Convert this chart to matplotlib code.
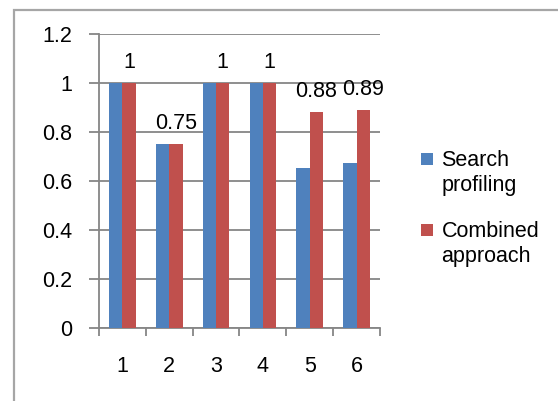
import matplotlib.pyplot as plt
from matplotlib.container import BarContainer
from matplotlib.patches import Rectangle
from matplotlib.legend_handler import HandlerPatch, update_from_first_child

plt.rcParams['font.family'] = ['Liberation Sans', 'DejaVu Sans']

grupos = ['1', '2', '3', '4', '5', '6']
search_profiling = [1.0, 0.75, 1.0, 1.0, 0.655, 0.675]
combined_approach = [1.0, 0.75, 1.0, 1.0, 0.88, 0.89]
rotulos_combined = ['1', '0.75', '1', '1', '0.88', '0.89']
nomes_series = ['Search\nprofiling', 'Combined\napproach']

AZUL = '#4f81bd'
VERMELHO = '#c0504d'
CINZA = '#868686'
LARG = 0.284
FONTE = 15.5


# quadradinho da legenda alinhado com a primeira linha do texto
def quadrado_topo(legend, orig_handle, xdescent, ydescent, width, height, fontsize):
    lado = 0.56 * fontsize
    return Rectangle((-xdescent, -ydescent + height - lado + 0.6 * fontsize), lado, lado)


fig = plt.figure(figsize=(5.58, 4.01), dpi=100)
ax = fig.add_axes([99 / 558, 1 - 328 / 401, 281 / 558, 294 / 401])

# moldura externa
fig.patches.append(Rectangle((14 / 558, -0.1), 1.2, 1 - 10 / 401 + 0.1,
                             transform=fig.transFigure, fill=False,
                             edgecolor='#a6a6a6', linewidth=1.6))

x = list(range(len(grupos)))
b1 = ax.bar([i - LARG / 2 for i in x], search_profiling, LARG, color=AZUL, zorder=3)
b2 = ax.bar([i + LARG / 2 for i in x], combined_approach, LARG, color=VERMELHO, zorder=3)

for xi, v, txt in zip(x, combined_approach, rotulos_combined):
    ax.annotate(txt, (xi + LARG / 2, v), xytext=(0, 15), textcoords='offset points',
                ha='center', va='center', fontsize=FONTE)

ax.set_xlim(-0.5, 5.5)
ax.set_ylim(0, 1.2)
ax.set_yticks([0, 0.2, 0.4, 0.6, 0.8, 1.0, 1.2])
ax.set_yticklabels(['0', '0.2', '0.4', '0.6', '0.8', '1', '1.2'])
ax.set_xticks(x)
ax.set_xticklabels(grupos)
ax.set_xticks([i - 0.5 for i in range(len(grupos) + 1)], minor=True)

ax.grid(axis='y', color=CINZA, linewidth=1.3, zorder=0)
ax.tick_params(axis='y', length=7, width=1.3, color=CINZA, pad=12.5, labelsize=FONTE)
ax.tick_params(axis='x', which='major', length=0, pad=20.5, labelsize=FONTE)
ax.tick_params(axis='x', which='minor', length=6, width=1.3, color=CINZA)

for lado in ['top', 'right']:
    ax.spines[lado].set_visible(False)
for lado in ['left', 'bottom']:
    ax.spines[lado].set_color(CINZA)
    ax.spines[lado].set_linewidth(1.3)

leg = fig.legend([b1, b2], nomes_series, loc='upper left',
                 bbox_to_anchor=(410 / 558, 1 - 139 / 401), frameon=False,
                 fontsize=FONTE, handlelength=0.56, handletextpad=0.4,
                 labelspacing=1.15, borderpad=0,
                 handler_map={BarContainer: HandlerPatch(patch_func=quadrado_topo,
                                                         update_func=update_from_first_child)})
for t in leg.get_texts():
    t.set_linespacing(1.25)

fig.savefig('out.png', dpi=100)
